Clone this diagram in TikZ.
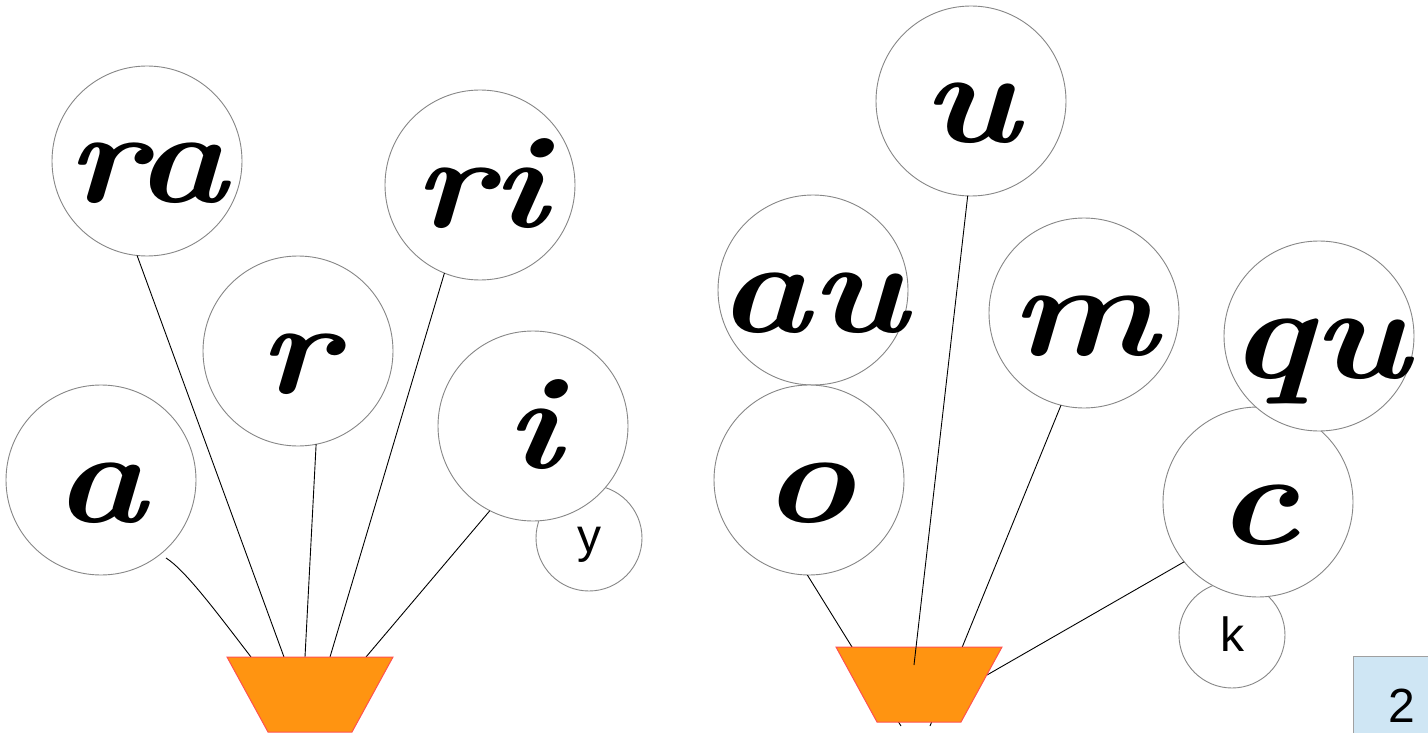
\documentclass[tikz,border=0pt]{standalone}
\usepackage{fontspec}
\newfontfamily\arialf{Liberation Sans}
\definecolor{bubbleline}{RGB}{135,135,135}
\definecolor{potfill}{HTML}{FF9411}
\definecolor{potline}{HTML}{FF5050}
\definecolor{boxfill}{HTML}{CFE6F4}
\definecolor{boxline}{RGB}{160,160,160}
\begin{document}
\begin{tikzpicture}[x=1pt,y=-1pt,
  bubble/.style={circle,draw=bubbleline,fill=white,line width=0.9pt,inner sep=0pt,outer sep=0pt,minimum size=190pt},
  smallbubble/.style={bubble,minimum size=106pt},
  cur/.style={font=\fontsize{132}{132}\selectfont\bfseries\itshape,anchor=base,inner sep=0pt,xscale=1.18},
  sanslbl/.style={font=\arialf\fontsize{48}{48}\selectfont,anchor=base,inner sep=0pt},
  stem/.style={draw=black,line width=0.9pt},
  pot/.style={fill=potfill,draw=potline,line width=1pt}]
\useasboundingbox (0,0) rectangle (1428,733);

% pot corners and stem ends
\coordinate (lp1) at (227,657); \coordinate (lp2) at (393,657);
\coordinate (lp3) at (352,732); \coordinate (lp4) at (268,732);
\coordinate (rp1) at (836,647); \coordinate (rp2) at (1002,647);
\coordinate (rp3) at (961,722); \coordinate (rp4) at (877,722);
\coordinate (ea) at (251,657); \coordinate (era) at (284,657);
\coordinate (er) at (305,657); \coordinate (eri) at (330,657);
\coordinate (ei) at (366,657);
\coordinate (eo) at (901,726); \coordinate (eu) at (914,665);
\coordinate (em) at (930,726); \coordinate (ec) at (987,675);
\coordinate (sa) at (166,558);

% bubbles
\node[bubble] (cra) at (147,161) {};
\node[bubble] (cr) at (298,351) {};
\node[bubble] (cri) at (480,185) {};
\node[bubble] (ca) at (101,480) {};
\node[smallbubble] (cy) at (589,538) {};
\node[bubble] (ci) at (533,426) {};
\node[bubble] (cu) at (971,101) {};
\node[bubble] (cau) at (813,290) {};
\node[bubble] (cm) at (1084,313) {};
\node[bubble] (co) at (809,480) {};
\node[smallbubble] (ck) at (1232,635) {};
\node[bubble] (cc) at (1258,502) {};
\node[bubble] (cqu) at (1319,336) {};

% stems behind pots
\draw[stem] (sa) .. controls (185,570) and (215,610) .. (ea);
\draw[stem] (cra.264) -- (era);
\draw[stem] (cr.281) -- (er);
\draw[stem] (cri.248) -- (eri);
\draw[stem] (ci.243) -- (ei);
\draw[stem] (co.269) -- (eo);
\draw[stem] (cm.256) -- (em);
\draw[stem] (cc.219) -- (ec);

% pots
\draw[pot] (lp1) -- (lp2) -- (lp3) -- (lp4) -- cycle;
\draw[pot] (rp1) -- (rp2) -- (rp3) -- (rp4) -- cycle;
\draw[stem] (cu.268) -- (eu);

% letters
\node[cur] (tra) at ([yshift=-42pt]cra.center) {ra};
\node[cur] (tr) at ([yshift=-42pt]cr.center) {r};
\node[cur] (tri) at ([yshift=-42pt]cri.center) {ri};
\node[cur] (ta) at ([yshift=-42pt]ca.center) {a};
\node[cur] (ti) at ([yshift=-42pt]ci.center) {i};
\node[sanslbl] (ty) at (589,552) {y};
\node[cur] (tu) at ([yshift=-42pt]cu.center) {u};
\node[cur] (tau) at ([yshift=-42pt]cau.center) {au};
\node[cur] (tm) at ([yshift=-42pt]cm.center) {m};
\node[cur] (to) at ([yshift=-42pt]co.center) {o};
\node[cur] (tc) at ([yshift=-42pt]cc.center) {c};
\node[cur] (tqu) at ([yshift=-42pt]cqu.center) {qu};
\node[sanslbl] (tk) at (1232,651) {k};

% page number box
\draw[fill=boxfill,draw=boxline,line width=1pt] (1353,656) rectangle (1430,735);
\node[sanslbl] (pg) at (1402,722) {2};
\end{tikzpicture}
\end{document}
